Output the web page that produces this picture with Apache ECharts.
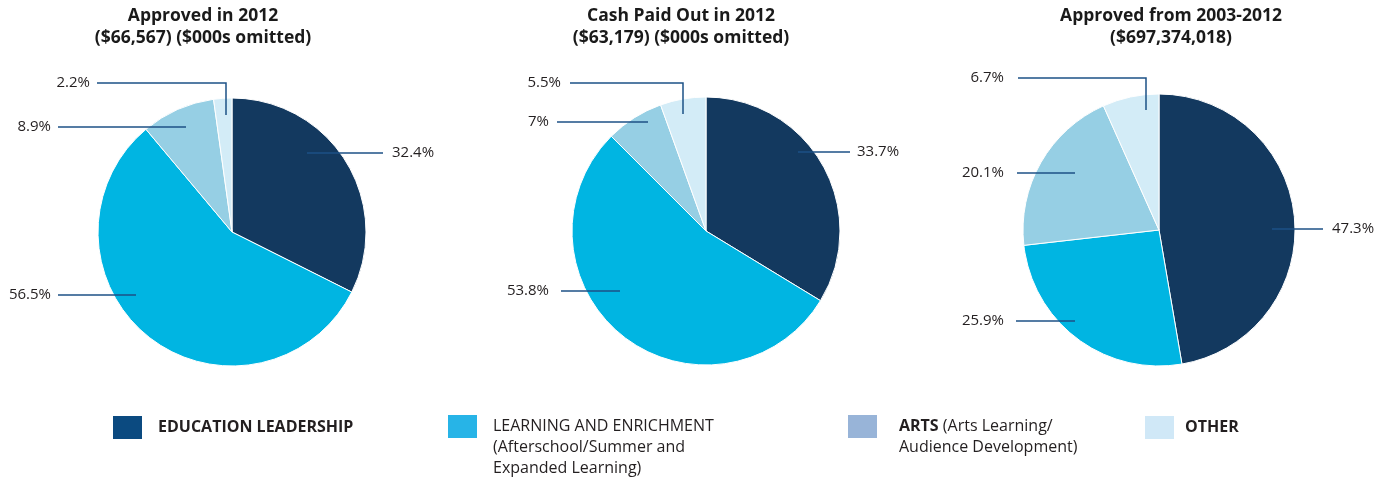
<!DOCTYPE html>
<html>
<head>
<meta charset="utf-8">
<title>Grants by program area</title>
<script src="https://cdn.jsdelivr.net/npm/echarts@6/dist/echarts.min.js"></script>
<style>
  html, body { margin: 0; padding: 0; background: #ffffff; }
  #main { width: 1390px; height: 478px; }
</style>
</head>
<body>
<div id="main"></div>
<script>
// Program areas, in slice order (clockwise from 12 o'clock)
const categories = ['EDUCATION LEADERSHIP', 'LEARNING AND ENRICHMENT', 'ARTS', 'OTHER'];

// Share of dollars by program area, in percent
const approved2012 = [32.4, 56.5, 8.9, 2.2];
const paidOut2012 = [33.7, 53.8, 7, 5.5];
const approved2003to2012 = [47.3, 25.9, 20.1, 6.7];

const chartTitles = [
  'Approved in 2012\n($66,567) ($000s omitted)',
  'Cash Paid Out in 2012\n($63,179) ($000s omitted)',
  'Approved from 2003-2012\n($697,374,018)'
];

// Legend wording (rich-text markup: {b|...} is bold)
const legendText = [
  '{b|EDUCATION LEADERSHIP}',
  'LEARNING AND ENRICHMENT\n(Afterschool/Summer and\nExpanded Learning)',
  '{b|ARTS} (Arts Learning/\nAudience Development)',
  '{b|OTHER}'
];

// ---- styling & layout ----
const FONT = '"Open Sans", "Noto Sans", sans-serif';
const sliceColors = ['#13395f', '#00b5e2', '#96cfe4', '#d3ecf7'];
const swatchColors = ['#0b4a80', '#27b4e7', '#98b4d8', '#d0e8f7'];
const leaderColor = '#1d5186';

const pieLayout = [
  { center: [232, 232], radius: 134, titleX: 203 },
  { center: [706, 231], radius: 134, titleX: 681 },
  { center: [1159, 230], radius: 136, titleX: 1171 }
];

// Label placement per slice: side, text edge x, line y, leader start/end x, optional drop y
const labelPlacement = [
  [
    { side: 'right', x: 392, y: 153, from: 307, to: 383 },
    { side: 'left', x: 51, y: 295, from: 58, to: 136 },
    { side: 'left', x: 51, y: 127, from: 58, to: 186 },
    { side: 'left', x: 90, y: 83, from: 97, to: 226, drop: 115 }
  ],
  [
    { side: 'right', x: 857, y: 152, from: 798, to: 850 },
    { side: 'left', x: 549, y: 291, from: 561, to: 620 },
    { side: 'left', x: 549, y: 122, from: 557, to: 648 },
    { side: 'left', x: 561, y: 83, from: 570, to: 683, drop: 114 }
  ],
  [
    { side: 'right', x: 1332, y: 229, from: 1272, to: 1323 },
    { side: 'left', x: 1004, y: 321, from: 1016, to: 1075 },
    { side: 'left', x: 1004, y: 173, from: 1017, to: 1075 },
    { side: 'left', x: 1004, y: 78, from: 1018, to: 1146, drop: 110 }
  ]
];

const LEGEND_TOP = 414;
const SWATCH_W = 31;
const SWATCH_H = 25;
const LINE_H = 21;
const legendLayout = [
  { left: 111, textGap: 10, lines: 1 },
  { left: 446, textGap: 10, lines: 3 },
  { left: 846, textGap: 16, lines: 2 },
  { left: 1143, textGap: 5, lines: 1 }
];

// The legend text is centred on the swatch; pad it from the top so the first
// line sits level with the swatch, then lift the whole item by the overhang.
function legendTop(lines) {
  const boxH = (2 * lines - 1) * LINE_H;
  const textTop = SWATCH_H / 2 - boxH / 2;
  return LEGEND_TOP + Math.min(0, textTop);
}

const seriesValues = [approved2012, paidOut2012, approved2003to2012];

function pieData(values, colorFor) {
  return categories.map((name, i) => ({
    name: name,
    value: values[i],
    itemStyle: { color: colorFor(i) }
  }));
}

// Filled slices
const sliceSeries = seriesValues.map((values, si) => ({
  type: 'pie',
  z: 2,
  center: pieLayout[si].center,
  radius: pieLayout[si].radius,
  startAngle: 90,
  clockwise: true,
  silent: true,
  data: pieData(values, i => sliceColors[i]),
  itemStyle: { borderColor: '#ffffff', borderWidth: 1 },
  label: { show: false },
  labelLine: { show: false }
}));

// Same pies, unfilled, stacked on top so that the leader lines run over the slices
const labelSeries = seriesValues.map((values, si) => ({
  type: 'pie',
  z: 3,
  center: pieLayout[si].center,
  radius: pieLayout[si].radius,
  startAngle: 90,
  clockwise: true,
  avoidLabelOverlap: false,
  silent: true,
  data: pieData(values, () => 'rgba(0,0,0,0)'),
  itemStyle: { borderWidth: 0 },
  label: {
    show: true,
    position: 'outside',
    formatter: p => p.value + '%',
    fontFamily: FONT,
    fontSize: 15,
    color: '#231f20'
  },
  labelLine: {
    show: true,
    smooth: false,
    lineStyle: { color: leaderColor, width: 1.5 }
  },
  labelLayout: p => {
    const L = labelPlacement[si][p.dataIndex];
    const pts = [[L.from, L.y], [L.to, L.y]];
    if (L.drop != null) pts.push([L.to, L.drop]);
    return {
      x: L.x,
      y: L.y,
      align: L.side === 'left' ? 'right' : 'left',
      verticalAlign: 'middle',
      labelLinePoints: pts
    };
  }
}));

const chart = echarts.init(document.getElementById('main'));

const option = {
  backgroundColor: '#ffffff',
  animation: false,
  title: chartTitles.map((t, i) => ({
    text: t,
    left: pieLayout[i].titleX,
    top: 5,
    padding: 0,
    textAlign: 'center',
    textStyle: {
      fontFamily: FONT,
      fontSize: 17.5,
      fontWeight: 'bold',
      color: '#1a1a1a',
      lineHeight: 22
    }
  })),
  legend: categories.map((name, i) => ({
    left: legendLayout[i].left,
    top: legendTop(legendLayout[i].lines),
    padding: 0,
    icon: 'rect',
    itemWidth: SWATCH_W,
    itemHeight: SWATCH_H,
    selectedMode: false,
    data: [{ name: name, itemStyle: { color: swatchColors[i] } }],
    formatter: () => legendText[i],
    textStyle: {
      fontFamily: FONT,
      fontSize: 16,
      color: '#231f20',
      lineHeight: LINE_H,
      padding: [(legendLayout[i].lines - 1) * LINE_H, 0, 0, legendLayout[i].textGap],
      rich: {
        b: { fontFamily: FONT, fontSize: 16, fontWeight: 'bold', color: '#231f20', lineHeight: LINE_H }
      }
    }
  })),
  series: sliceSeries.concat(labelSeries)
};

chart.setOption(option);
</script>
</body>
</html>
